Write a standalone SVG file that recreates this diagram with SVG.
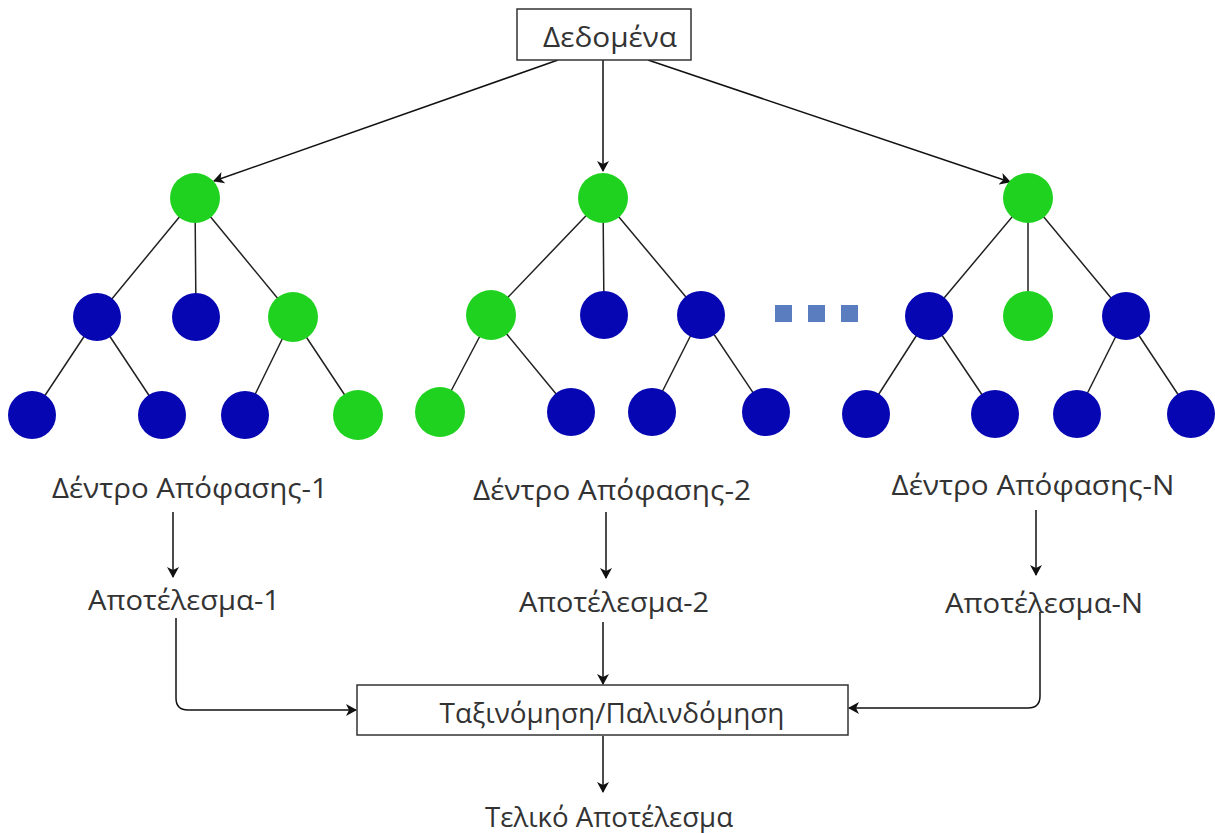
<svg xmlns="http://www.w3.org/2000/svg" width="1215" height="833" viewBox="0 0 1215 833">
<defs>
<marker id="ah" markerWidth="12" markerHeight="12" refX="10" refY="6" orient="auto" markerUnits="userSpaceOnUse">
<path d="M0,0 L11,6 L0,12 L3,6 Z" fill="#111"/>
</marker>
</defs>
<style>
text{font-family:"Open Sans","DejaVu Sans",sans-serif;fill:#333;text-anchor:middle}
.lbl{font-size:27px}
.box{fill:#fff;stroke:#333;stroke-width:1.5}
.edge{stroke:#222;stroke-width:1.5;fill:none}
.arr{stroke:#111;stroke-width:1.5;fill:none;marker-end:url(#ah)}
.g{fill:#1fd21f}
.b{fill:#0606b2}
.sq{fill:#5a7dbf}
</style>
<rect width="1215" height="833" fill="#fff"/>
<g id="connectors">
<line class="arr" x1="558" y1="60" x2="214" y2="181"/>
<line class="arr" x1="603" y1="60" x2="603" y2="171"/>
<line class="arr" x1="648" y1="60" x2="1010" y2="182"/>
<line class="arr" x1="173" y1="512" x2="173" y2="577"/>
<line class="arr" x1="606" y1="512" x2="606" y2="578"/>
<line class="arr" x1="1036" y1="510" x2="1036" y2="575"/>
<path class="arr" d="M176,618 V698 Q176,710 188,710 H356"/>
<line class="arr" x1="603" y1="622" x2="603" y2="684"/>
<path class="arr" d="M1040,612 V696 Q1040,708 1028,708 H849"/>
<line class="arr" x1="603" y1="736" x2="603" y2="792"/>
</g>
<g id="tree1">
<path class="edge" d="M195,198 L97,317 M195,198 L196,317 M195,198 L293,317 M97,317 L32,415 M97,317 L162,415 M293,317 L245,415 M293,317 L358,415"/>
<circle class="g" cx="195" cy="198" r="25"/>
<circle class="b" cx="97" cy="317" r="24"/>
<circle class="b" cx="196" cy="317" r="24"/>
<circle class="g" cx="293" cy="317" r="25"/>
<circle class="b" cx="32" cy="415" r="24"/>
<circle class="b" cx="162" cy="415" r="24"/>
<circle class="b" cx="245" cy="415" r="24"/>
<circle class="g" cx="358" cy="415" r="25"/>
</g>
<g id="tree2">
<path class="edge" d="M603,198 L491,315 M603,198 L604,315 M603,198 L701,315 M491,315 L440,412 M491,315 L571,412 M701,315 L652,412 M701,315 L766,412"/>
<circle class="g" cx="603" cy="198" r="25"/>
<circle class="g" cx="491" cy="315" r="25"/>
<circle class="b" cx="604" cy="315" r="24"/>
<circle class="b" cx="701" cy="315" r="24"/>
<circle class="g" cx="440" cy="412" r="25"/>
<circle class="b" cx="571" cy="412" r="24"/>
<circle class="b" cx="652" cy="412" r="24"/>
<circle class="b" cx="766" cy="412" r="24"/>
</g>
<g id="dots">
<rect class="sq" x="775" y="305" width="17" height="17"/>
<rect class="sq" x="808" y="305" width="17" height="17"/>
<rect class="sq" x="841" y="305" width="17" height="17"/>
</g>
<g id="treeN">
<path class="edge" d="M1028,198 L929,316 M1028,198 L1028,316 M1028,198 L1126,316 M929,316 L866,414 M929,316 L995,414 M1126,316 L1077,414 M1126,316 L1191,414"/>
<circle class="g" cx="1028" cy="198" r="25"/>
<circle class="b" cx="929" cy="316" r="24"/>
<circle class="g" cx="1028" cy="316" r="25"/>
<circle class="b" cx="1126" cy="316" r="24"/>
<circle class="b" cx="866" cy="414" r="24"/>
<circle class="b" cx="995" cy="414" r="24"/>
<circle class="b" cx="1077" cy="414" r="24"/>
<circle class="b" cx="1191" cy="414" r="24"/>
</g>
<g id="data">
<rect class="box" x="517" y="9" width="174" height="51"/>
<text x="610" y="47" style="font-size:28px" textLength="134" lengthAdjust="spacingAndGlyphs">Δεδομένα</text>
</g>
<g id="label1"><text class="lbl" x="190" y="498" textLength="276" lengthAdjust="spacingAndGlyphs">Δέντρο Απόφασης-1</text></g>
<g id="label2"><text class="lbl" x="612" y="500" textLength="278" lengthAdjust="spacingAndGlyphs">Δέντρο Απόφασης-2</text></g>
<g id="labelN"><text class="lbl" x="1033" y="495" textLength="283" lengthAdjust="spacingAndGlyphs">Δέντρο Απόφασης-N</text></g>
<g id="result1"><text class="lbl" x="184" y="610" textLength="192" lengthAdjust="spacingAndGlyphs">Αποτέλεσμα-1</text></g>
<g id="result2"><text class="lbl" x="614" y="612" textLength="190" lengthAdjust="spacingAndGlyphs">Αποτέλεσμα-2</text></g>
<g id="resultN"><text class="lbl" x="1044" y="613" textLength="198" lengthAdjust="spacingAndGlyphs">Αποτέλεσμα-N</text></g>
<g id="classify">
<rect class="box" x="357" y="685" width="491" height="50"/>
<text class="lbl" x="612" y="723" textLength="345" lengthAdjust="spacingAndGlyphs">Ταξινόμηση/Παλινδόμηση</text>
</g>
<g id="final"><text class="lbl" x="609" y="827" textLength="248" lengthAdjust="spacingAndGlyphs">Τελικό Αποτέλεσμα</text></g>
</svg>
